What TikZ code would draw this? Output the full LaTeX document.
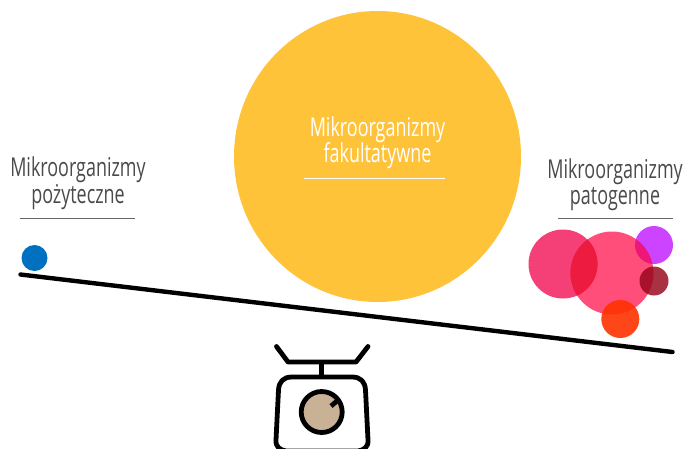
\documentclass[tikz,border=0pt]{standalone}
\usepackage{fontspec}
\setmainfont[FakeStretch=0.69]{Open Sans}
\definecolor{gold}{HTML}{FFC33A}
\definecolor{txt}{HTML}{4A4A4C}
\definecolor{rulec}{HTML}{666668}
\definecolor{overlapc}{HTML}{ED1B3F}
\tikzset{
 lab/.style={font=\fontsize{26pt}{26.5pt}\selectfont, align=center, inner sep=0, text=txt},
 blob/.style={circle, inner sep=0, draw=none},
 sc/.style={line width=4.8pt, line cap=round, line join=round, draw=black}
}
\begin{document}
\begin{tikzpicture}[x=1pt,y=-1pt]
\useasboundingbox (0,0) rectangle (685,448);
\clip (0,0) rectangle (685,448);
\fill[gold] (377.5,156.5) ellipse[x radius=143.5,y radius=145.5];
\node[lab,text=white] (c) at (377.5,142.5) {Mikroorganizmy\\fakultatywne};
\coordinate (c1) at (304,178); \coordinate (c2) at (445,178);
\draw[white,line width=.8pt] (c1) -- (c2);
\node[lab] (l) at (78,183) {Mikroorganizmy\\pożyteczne};
\coordinate (l1) at (19.5,218); \coordinate (l2) at (134.5,218);
\draw[rulec,line width=.8pt] (l1) -- (l2);
\node[lab] (r) at (615,184.5) {Mikroorganizmy\\patogenne};
\coordinate (r1) at (558,218); \coordinate (r2) at (673,218);
\draw[rulec,line width=.8pt] (r1) -- (r2);
\node[blob,fill={rgb,255:red,0;green,112;blue,192},minimum size=26pt] (b) at (34.5,258) {};
\coordinate (b1) at (20.5,274.5); \coordinate (b2) at (672.5,352);
\draw[black,line width=4.4pt,line cap=round] (b1) -- (b2);
\node[blob,fill={rgb,255:red,204;green,68;blue,255},minimum size=38pt] (p) at (654,245) {};
\node[blob,fill={rgb,255:red,240;green,0;blue,73},fill opacity=.75,minimum size=69pt] (x) at (563,264) {};
\node[blob,fill={rgb,255:red,255;green,3;blue,66},fill opacity=.7,minimum size=83pt] (y) at (612,273) {};
\begin{scope}
\clip (563,264) circle[radius=34.5];
\fill[overlapc] (612,273) circle[radius=41.5];
\end{scope}
\node[blob,fill={rgb,255:red,150;green,5;blue,25},fill opacity=.82,minimum size=29pt] (d) at (654,281) {};
\node[blob,fill={rgb,255:red,255;green,50;blue,0},fill opacity=.9,minimum size=38pt] (o) at (620.3,319) {};
\draw[sc] (276.5,346.5) -- (288,362) -- (356,362) -- (368,346.5);
\draw[sc,line cap=butt] (321.7,362) -- (321.7,376);
\draw[sc] (292,377) -- (352,377) .. controls (361,377) and (365,382) .. (365.5,390) -- (368,440) .. controls (368.5,447) and (364,450) .. (358,451) -- (286,451) .. controls (280,450) and (275.5,447) .. (276,440) -- (278.5,390) .. controls (279,382) and (283,377) .. (292,377) -- cycle;
\draw[sc,fill={rgb,255:red,201;green,177;blue,150}] (321.7,412) circle[radius=20.5];
\draw[sc,line cap=butt] (331,406) -- (337,401);
\end{tikzpicture}
\end{document}
